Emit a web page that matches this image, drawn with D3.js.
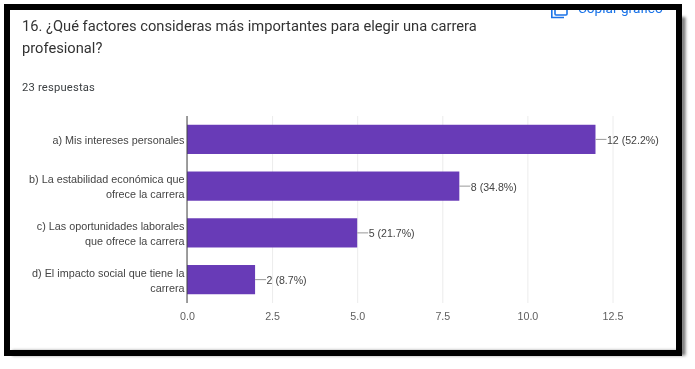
<!DOCTYPE html>
<html>
<head>
<meta charset="utf-8">
<script src="https://cdn.jsdelivr.net/npm/d3@7"></script>
<style>
  html, body { margin: 0; padding: 0; background: #fff; overflow: hidden; }
  svg { display: block; }
  text { font-family: Arial, "Liberation Sans", sans-serif; }
  .heading { font-family: Roboto, sans-serif; }
</style>
</head>
<body>
<svg id="chart" width="695" height="369"></svg>
<script>
const categories = [
  ['a) Mis intereses personales'],
  ['b) La estabilidad económica que', 'ofrece la carrera'],
  ['c) Las oportunidades laborales', 'que ofrece la carrera'],
  ['d) El impacto social que tiene la', 'carrera']
];
const counts = [12, 8, 5, 2];
const percents = ['52.2%', '34.8%', '21.7%', '8.7%'];
const xTicks = [0, 2.5, 5, 7.5, 10, 12.5];
const titleLines = ['16. ¿Qué factores consideras más importantes para elegir una carrera', 'profesional?'];
const subtitle = '23 respuestas';
const copyLabel = 'Copiar gráfico';

const svg = d3.select('#chart');

const defs = svg.append('defs');
defs.append('filter').attr('id', 'soft')
  .append('feGaussianBlur').attr('stdDeviation', 0.4);
defs.append('filter').attr('id', 'shadow')
  .attr('x', '-5%').attr('y', '-5%').attr('width', '110%').attr('height', '110%')
  .append('feGaussianBlur').attr('stdDeviation', 1.6);

const root = svg.append('g').attr('filter', 'url(#soft)');

const x = d3.scaleLinear().domain([0, 12.5]).range([187, 612.5]);
const y = d3.scaleBand().domain(d3.range(categories.length)).range([116, 303]).paddingInner(0.375).paddingOuter(0.1875);

// header
root.append('text').attr('class', 'heading')
  .attr('x', 22).attr('y', 31)
  .attr('font-size', 14.7).attr('fill', '#333')
  .selectAll('tspan').data(titleLines).enter().append('tspan')
  .attr('x', 22)
  .attr('dy', (d, i) => i ? 21.5 : 0)
  .text(d => d);

root.append('text').attr('class', 'heading')
  .attr('x', 22).attr('y', 91)
  .attr('font-size', 11.2).attr('letter-spacing', 0.2).attr('fill', '#3c4043')
  .text(subtitle);

// the copy button is cut off by the frame in the screenshot
const copy = root.append('g').attr('stroke', '#1a73e8').attr('fill', 'none').attr('stroke-width', 1.6);
copy.append('rect').attr('x', 555).attr('y', 3).attr('width', 12).attr('height', 12).attr('rx', 1);
copy.append('path').attr('d', 'M551.8 5V17.5H564');
root.append('text').attr('class', 'heading')
  .attr('x', 578).attr('y', 13)
  .attr('font-size', 13.6).attr('fill', '#1a73e8')
  .text(copyLabel);

// x axis and grid
const xAxis = d3.axisBottom(x).tickValues(xTicks).tickFormat(d3.format('.1f')).tickSize(187).tickPadding(9);
const axisG = root.append('g').attr('transform', 'translate(0,116)').call(xAxis);
axisG.select('.domain').remove();
axisG.selectAll('.tick line').attr('stroke', '#ececec').attr('stroke-width', 1);
axisG.selectAll('.tick text')
  .attr('font-family', 'Arial, "Liberation Sans", sans-serif')
  .attr('font-size', 10.7).attr('fill', '#5f5f5f');

// bars
root.append('g').selectAll('rect').data(counts).enter().append('rect')
  .attr('x', x(0))
  .attr('y', (d, i) => y(i))
  .attr('width', d => x(d) - x(0))
  .attr('height', y.bandwidth())
  .attr('fill', '#673ab7');

// zero line
root.append('line')
  .attr('x1', x(0)).attr('x2', x(0)).attr('y1', 116).attr('y2', 303)
  .attr('stroke', '#444').attr('stroke-width', 1);

// category labels
const catLabels = root.append('g').selectAll('text').data(categories).enter().append('text')
  .attr('text-anchor', 'end')
  .attr('font-size', 10.8).attr('fill', '#444');
catLabels.selectAll('tspan').data((d, i) => d.map((line, j) => ({ line, j, i, n: d.length }))).enter().append('tspan')
  .attr('x', 184.5)
  .attr('y', d => y(d.i) + y.bandwidth() / 2 + 4.5 + (d.j - (d.n - 1) / 2) * 15)
  .text(d => d.line);

// value labels with leader lines
const leaders = root.append('g').selectAll('g').data(counts).enter().append('g');
leaders.append('line')
  .attr('x1', d => x(d)).attr('x2', d => x(d) + 11)
  .attr('y1', (d, i) => y(i) + y.bandwidth() / 2)
  .attr('y2', (d, i) => y(i) + y.bandwidth() / 2)
  .attr('stroke', '#999');
leaders.append('text')
  .attr('x', d => x(d) + 11.5)
  .attr('y', (d, i) => y(i) + y.bandwidth() / 2 + 4.5)
  .attr('font-size', 10.6).attr('fill', '#444')
  .text((d, i) => `${d} (${percents[i]})`);

// screenshot frame
svg.append('path')
  .attr('d', 'M9 350H680V14')
  .attr('transform', 'translate(3,3)')
  .attr('fill', 'none').attr('stroke', '#777').attr('stroke-width', 5)
  .attr('filter', 'url(#shadow)');
svg.append('rect')
  .attr('x', 7).attr('y', 7).attr('width', 672).attr('height', 346)
  .attr('fill', 'none').attr('stroke', '#000').attr('stroke-width', 6);
svg.append('rect').attr('x', 0).attr('y', 0).attr('width', 695).attr('height', 4).attr('fill', '#fff');
</script>
</body>
</html>
